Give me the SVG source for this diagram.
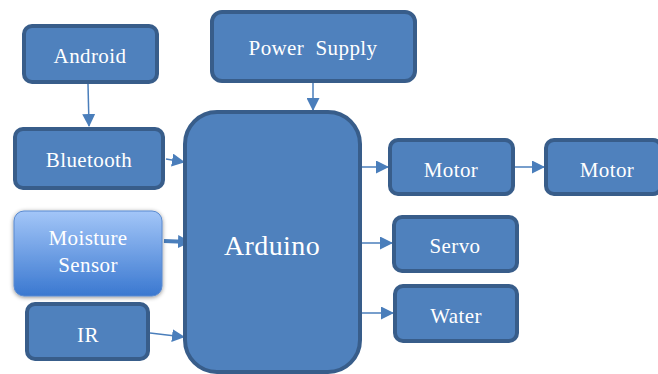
<svg xmlns="http://www.w3.org/2000/svg" width="658" height="374" viewBox="0 0 658 374">
<style>
.box{fill:#4F81BD;stroke:#385D8A;stroke-width:4}
.t{font-family:"Liberation Serif","DejaVu Serif",serif;font-size:21px;letter-spacing:0.4px;fill:#FFFFFF;text-anchor:middle}
.c{stroke:#4A7EBB;stroke-width:1.5;fill:none;marker-end:url(#ah)}
</style>
<defs>
<marker id="ah" markerWidth="13" markerHeight="13" refX="12" refY="6.5" orient="auto" markerUnits="userSpaceOnUse" viewBox="0 0 13 13">
<path d="M0,0 L13,6.5 L0,13 z" fill="#4A7EBB"/>
</marker>
<marker id="ah2" markerWidth="13" markerHeight="13" refX="12" refY="6.5" orient="auto" markerUnits="userSpaceOnUse" viewBox="0 0 13 13">
<path d="M0,0 L13,6.5 L0,13 z" fill="#4A7EBB"/>
</marker>
<linearGradient id="mg" x1="0" y1="0" x2="0" y2="1">
<stop offset="0" stop-color="#A3C6F8"/>
<stop offset="1" stop-color="#3A78D0"/>
</linearGradient>
<filter id="sh" x="-10%" y="-10%" width="120%" height="125%">
<feGaussianBlur in="SourceAlpha" stdDeviation="2"/>
<feOffset dx="0" dy="1" result="b"/>
<feFlood flood-color="#000" flood-opacity="0.45"/>
<feComposite in2="b" operator="in"/>
<feMerge><feMergeNode/><feMergeNode in="SourceGraphic"/></feMerge>
</filter>
</defs>
<g id="connectors">
<line class="c" x1="88" y1="84" x2="89" y2="126"/>
<line class="c" x1="313" y1="83" x2="313" y2="110"/>
<line class="c" x1="166" y1="159" x2="184" y2="162"/>
<line x1="164" y1="241" x2="190" y2="242" stroke="#4A7EBB" stroke-width="4" marker-end="url(#ah2)"/>
<line class="c" x1="150" y1="333" x2="184" y2="337"/>
<line class="c" x1="331" y1="167" x2="388" y2="167"/>
<line class="c" x1="515" y1="167" x2="544" y2="167"/>
<line class="c" x1="336" y1="243" x2="392" y2="243"/>
<line class="c" x1="336" y1="313" x2="393" y2="313"/>
</g>
<g id="arduino"><rect class="box" x="185" y="112" width="175" height="260" rx="32"/><text class="t" x="272" y="255" style="font-size:28px">Arduino</text></g>
<g id="android"><rect class="box" x="24" y="26" width="133" height="56" rx="8"/><text class="t" x="90" y="63">Android</text></g>
<g id="power"><rect class="box" x="212" y="12" width="203" height="69" rx="10"/><text class="t" x="313" y="55">Power&#160; Supply</text></g>
<g id="bluetooth"><rect class="box" x="15" y="129" width="148" height="59" rx="8"/><text class="t" x="89" y="167">Bluetooth</text></g>
<g id="moisture"><rect x="14" y="211" width="148" height="85" rx="10" fill="url(#mg)" stroke="#5A8AD0" stroke-width="1" filter="url(#sh)"/><text class="t" x="88" y="245">Moisture</text><text class="t" x="88" y="272">Sensor</text></g>
<g id="ir"><rect class="box" x="27" y="304" width="121" height="55" rx="8"/><text class="t" x="88" y="342">IR</text></g>
<g id="motor1"><rect class="box" x="390" y="140" width="123" height="54" rx="8"/><text class="t" x="451" y="177">Motor</text></g>
<g id="motor2"><rect class="box" x="546" y="140" width="115" height="54" rx="8"/><text class="t" x="607" y="177">Motor</text></g>
<g id="servo"><rect class="box" x="394" y="217" width="123" height="54" rx="8"/><text class="t" x="455" y="253">Servo</text></g>
<g id="water"><rect class="box" x="395" y="286" width="122" height="55" rx="8"/><text class="t" x="456" y="323">Water</text></g>
</svg>
